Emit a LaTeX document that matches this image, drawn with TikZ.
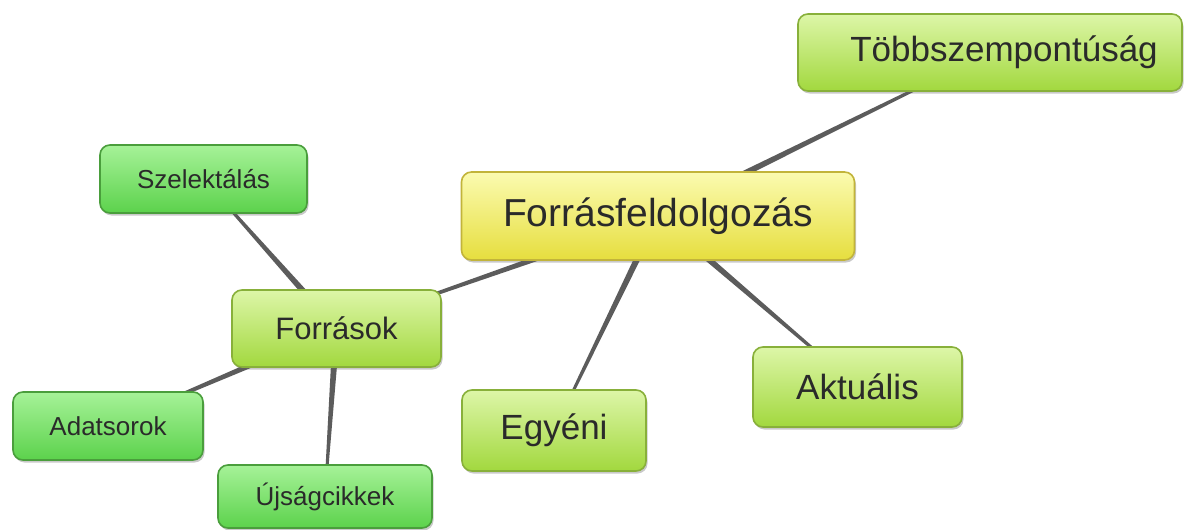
\documentclass[tikz,border=0pt]{standalone}
\usepackage{fontspec}
\setmainfont{Liberation Sans}
\usetikzlibrary{shadows,calc,backgrounds}
\definecolor{txt}{HTML}{2A2A2A}
\definecolor{gtop}{HTML}{A6F298}
\definecolor{gmid}{HTML}{78E46A}
\definecolor{gbot}{HTML}{5CD24C}
\definecolor{gbrd}{HTML}{4A9E3C}
\definecolor{ltop}{HTML}{DDF6A8}
\definecolor{lmid}{HTML}{BCE868}
\definecolor{lbot}{HTML}{A2D83E}
\definecolor{lbrd}{HTML}{88B03A}
\definecolor{ytop}{HTML}{FBFBB0}
\definecolor{ymid}{HTML}{F2F070}
\definecolor{ybot}{HTML}{E6DE3E}
\definecolor{ybrd}{HTML}{C2B43A}
\definecolor{lnk}{HTML}{5C5C5C}
\tikzset{
  box/.style={rounded corners=10pt, line width=1.6pt, text=txt, inner sep=0pt, align=center,
    drop shadow={shadow xshift=1.5pt, shadow yshift=-2.5pt, opacity=0.35, fill=black!60}},
  smallbox/.style={box, draw=gbrd, top color=gtop, middle color=gmid, bottom color=gbot,
    font=\fontsize{26}{26}\selectfont},
  midbox/.style={box, draw=lbrd, top color=ltop, middle color=lmid, bottom color=lbot},
  mainbox/.style={box, draw=ybrd, top color=ytop, middle color=ymid, bottom color=ybot,
    font=\fontsize{39}{39}\selectfont},
  link/.style={fill=lnk}
}
\newcommand\myconn[2]{\fill[link] ($(#1)!3.6pt!90:(#2)$) -- ($(#2)!1pt!-90:(#1)$) -- ($(#2)!1pt!90:(#1)$) -- ($(#1)!3.6pt!-90:(#2)$) -- cycle;}
\begin{document}
\begin{tikzpicture}[x=1pt,y=-1pt]
\useasboundingbox (0,0) rectangle (1184,530);
\node[mainbox, minimum width=393pt, minimum height=88pt] (main) at (658,216) {Forrásfeldolgozás};
\node[midbox, minimum width=384pt, minimum height=77pt, font=\fontsize{35}{35}\selectfont] (tobb) at (990,52.5) {\hspace*{28pt}Többszempontúság};
\node[midbox, minimum width=209pt, minimum height=77pt, font=\fontsize{31}{31}\selectfont] (forr) at (336.5,328.5) {Források};
\node[midbox, minimum width=184pt, minimum height=81pt, font=\fontsize{35}{35}\selectfont] (egy) at (554,430.5) {Egyéni};
\node[midbox, minimum width=209pt, minimum height=80pt, font=\fontsize{35}{35}\selectfont] (akt) at (857.5,387) {Aktuális};
\node[smallbox, minimum width=207pt, minimum height=68pt] (szel) at (203.5,179) {Szelektálás};
\node[smallbox, minimum width=190pt, minimum height=68pt] (adat) at (108,426) {Adatsorok};
\node[smallbox, minimum width=214pt, minimum height=63pt] (ujs) at (325,496.5) {Újságcikkek};
\begin{scope}[on background layer]
\fill[white] (0,0) rectangle (1184,530);
\myconn{main}{tobb}
\myconn{main}{forr}
\myconn{main}{egy}
\myconn{main}{akt}
\myconn{forr}{szel}
\myconn{forr}{adat}
\myconn{forr}{ujs}
\end{scope}
\end{tikzpicture}
\end{document}
